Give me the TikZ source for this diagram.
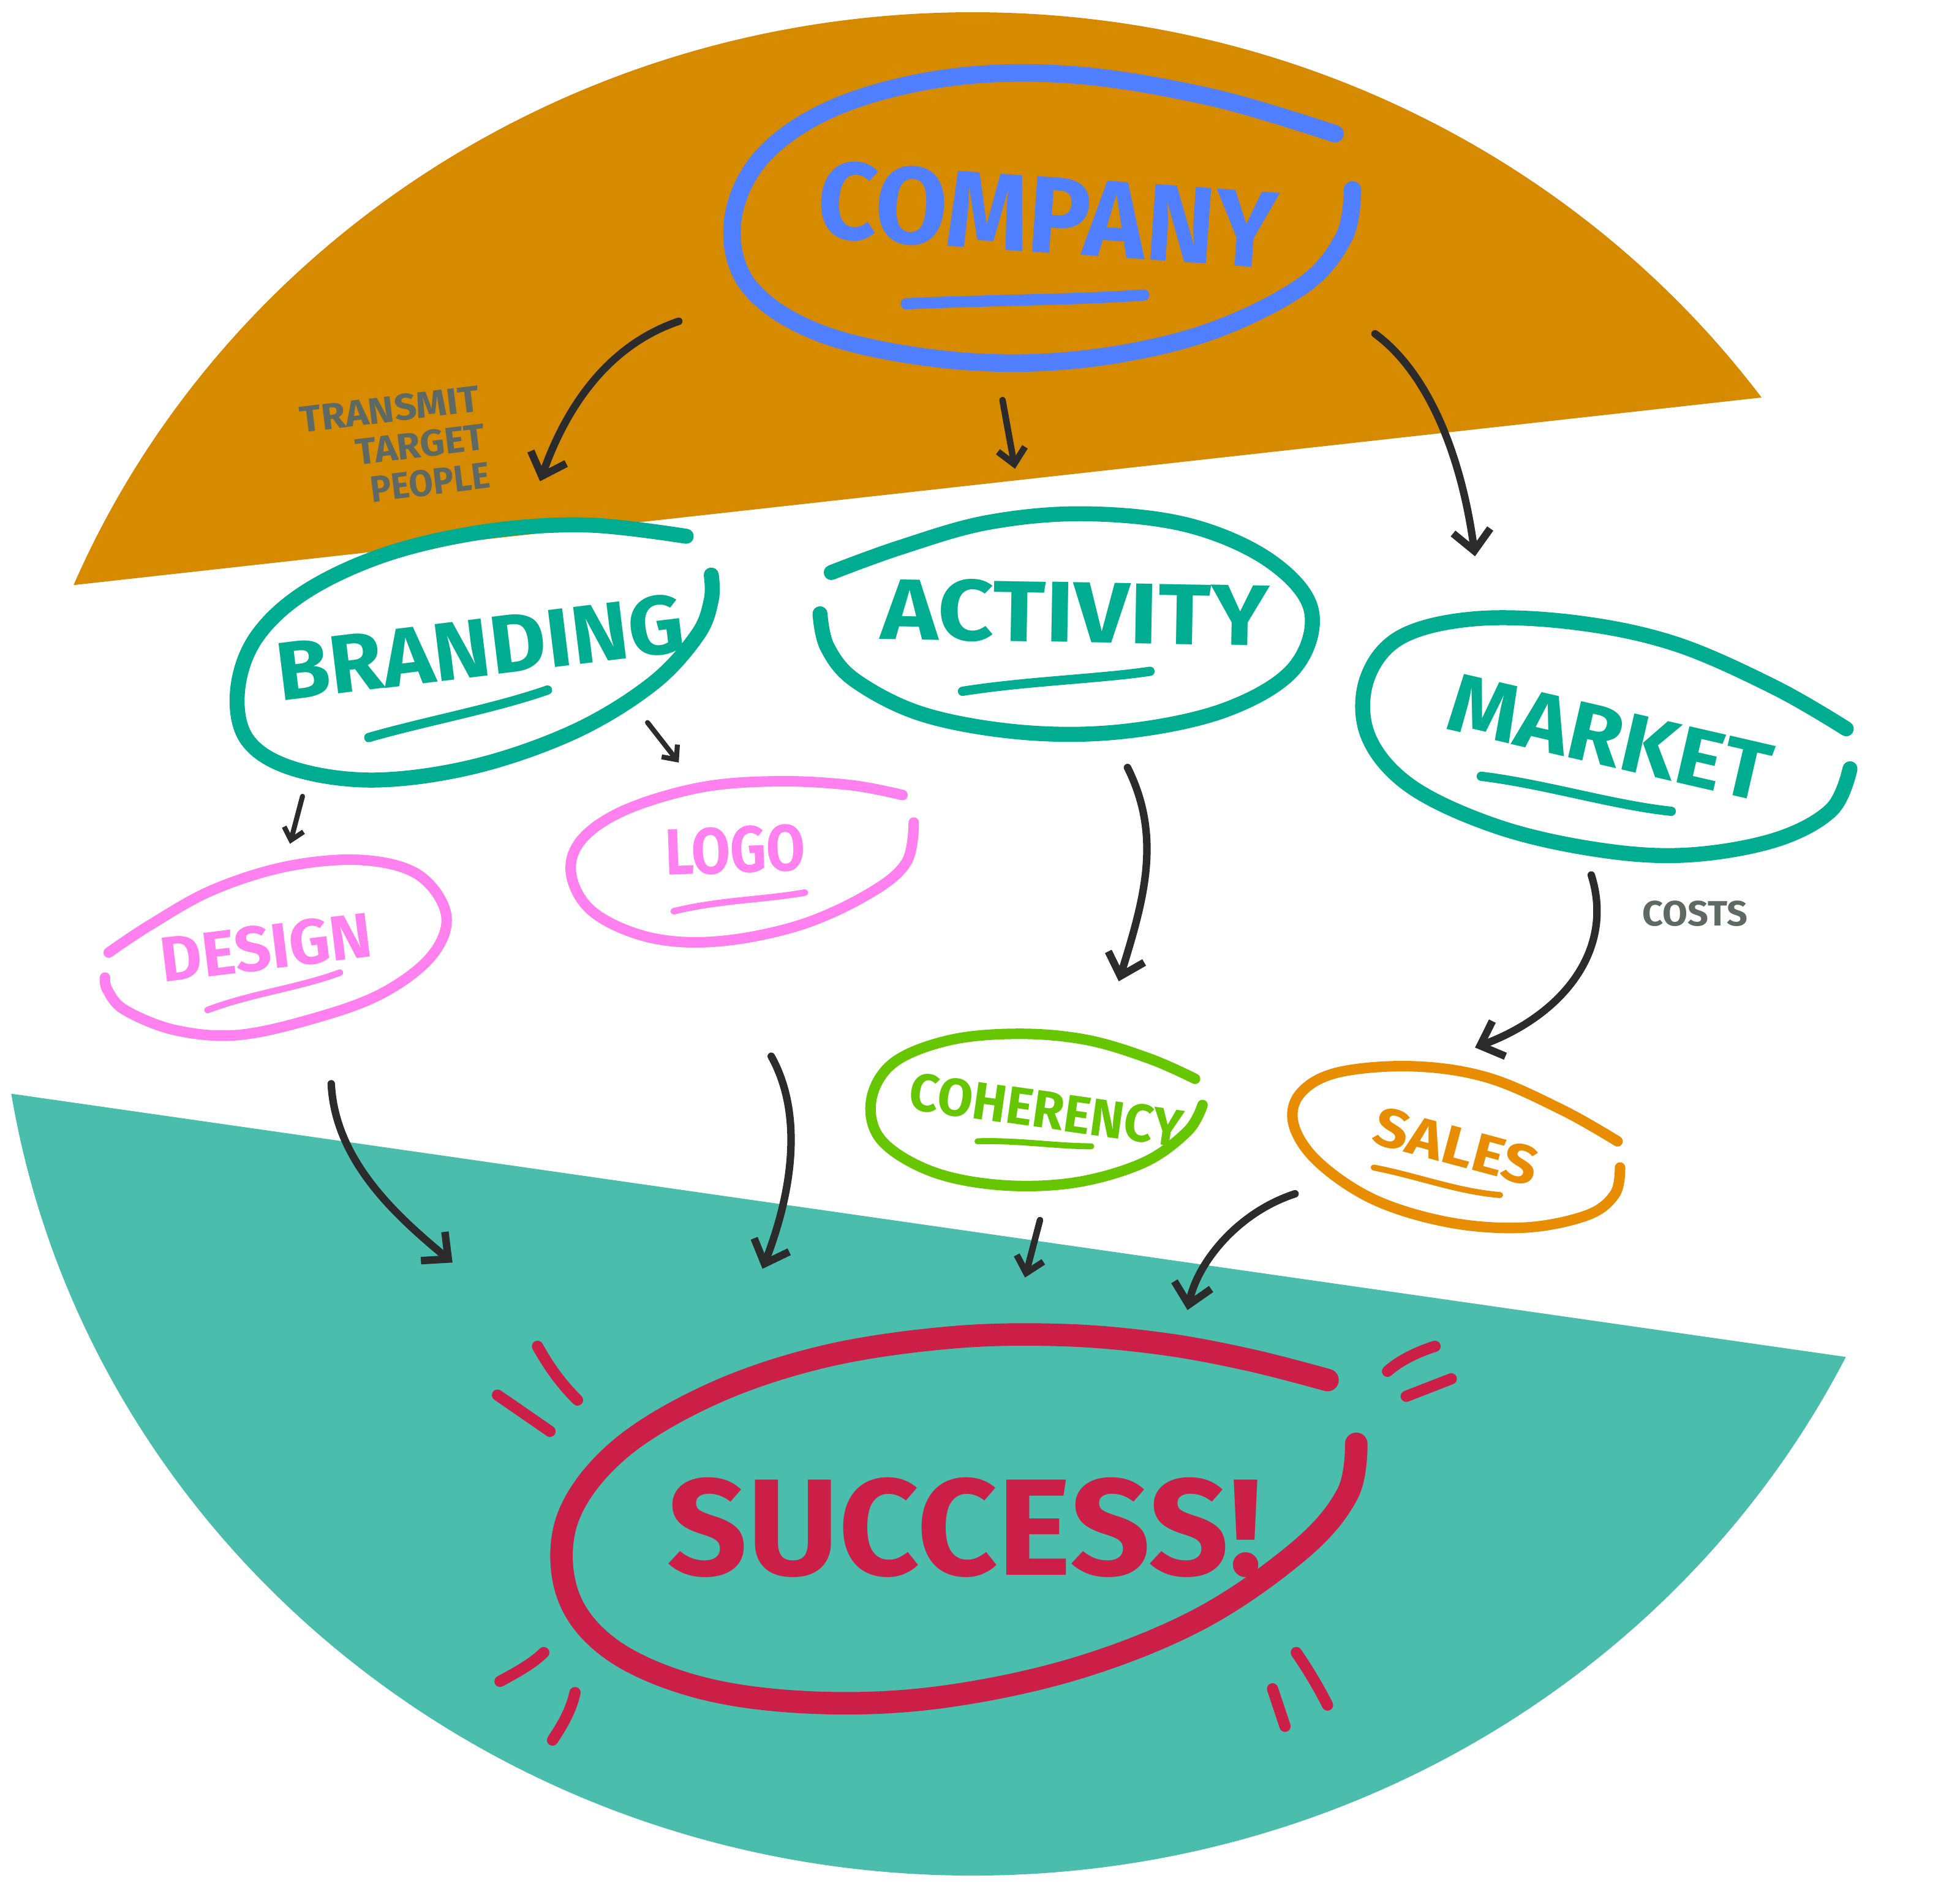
\documentclass[tikz,border=0pt]{standalone}
\usepackage{fontspec}
\setmainfont{Fira Sans}
\usepackage{graphicx}
\usetikzlibrary{arrows.meta}
\definecolor{bgorange}{HTML}{D68A00}
\definecolor{bgteal}{HTML}{4BBDAD}
\definecolor{cblue}{HTML}{5080FF}
\definecolor{cteal}{HTML}{00AD90}
\definecolor{cpink}{HTML}{FF80EE}
\definecolor{cgreen}{HTML}{66C600}
\definecolor{csales}{HTML}{E88C00}
\definecolor{cred}{HTML}{CC1F47}
\definecolor{cink}{HTML}{2B2B2B}
\definecolor{cgray}{HTML}{5E6964}
\newcommand{\fitto}[3]{\resizebox{#1}{#2}{#3}}
\begin{document}
\begin{tikzpicture}[x=0.5pt,y=-0.5pt,
  loopline/.style={line cap=round,line join=round},
  lbl/.style={inner sep=0pt,outer sep=0pt},
  ul/.style={line cap=round},
  arr/.style={draw=cink,line width=3pt,line cap=round,line join=round,-{Straight Barb[length=8pt,width=15pt]}},
  marr/.style={draw=cink,line width=2.6pt,line cap=round,line join=round,-{Straight Barb[length=6pt,width=11pt]}},
  sarr/.style={draw=cink,line width=2pt,line cap=round,line join=round,-{Straight Barb[length=4.5pt,width=8pt]}},
  spark/.style={draw=cred,line width=4.5pt,line cap=round}]

\useasboundingbox (0,0) rectangle (1568,1511);
\fill[white] (0,0) rectangle (1568,1511);
\begin{scope}
\clip (778.1,755.1) ellipse [x radius=779.1, y radius=745.3];
\fill[bgorange] (-10,-10) -- (1600,-10) -- (1600,296.8) -- (-10,475.7) -- cycle;
\fill[bgteal] (-10,872.2) -- (1600,1103.2) -- (1600,1600) -- (-10,1600) -- cycle;
\end{scope}

% ---------- loops ----------
\draw[cblue,line width=7pt,loopline] plot[smooth,tension=0.6] coordinates {(1068,107) (970,78) (860,60) (760,62) (670,85) (610,125) (586,178) (600,230) (660,268) (760,288) (860,288) (960,268) (1040,230) (1075,190) (1082,152)};
\draw[cteal,line width=6pt,loopline] plot[smooth,tension=0.6] coordinates {(549,429) (470,420) (390,425) (310,443) (245,473) (205,510) (190,553) (198,592) (235,615) (300,624) (380,613) (460,585) (522,547) (558,508) (569,480) (569,460)};
\draw[cteal,line width=6pt,loopline] plot[smooth,tension=0.6] coordinates {(665,458) (720,438) (790,418) (868,411) (950,420) (1015,448) (1049,488) (1035,535) (980,568) (900,585) (820,586) (740,572) (685,545) (662,518) (656,491)};
\draw[cteal,line width=6pt,loopline] plot[smooth,tension=0.6] coordinates {(1477,583) (1420,550) (1340,515) (1260,498) (1180,495) (1120,510) (1093,545) (1095,590) (1130,630) (1200,662) (1280,680) (1350,684) (1420,672) (1465,648) (1480,615)};
\draw[cpink,line width=4.2pt,loopline] plot[smooth,tension=0.6] coordinates {(722,636) (680,628) (621,625) (560,630) (500,648) (465,672) (457,700) (475,730) (520,750) (575,753) (640,740) (695,715) (725,690) (731,658)};
\draw[cpink,line width=4.2pt,loopline] plot[smooth,tension=0.6] coordinates {(87,762) (120,740) (170,712) (230,693) (290,688) (335,700) (357,732) (345,765) (305,795) (250,815) (190,828) (140,824) (100,808) (86,792) (84,782)};
\draw[cgreen,line width=4.2pt,loopline] plot[smooth,tension=0.6] coordinates {(956,863) (920,847) (870,832) (816,827) (760,832) (715,850) (697,880) (705,912) (745,937) (800,948) (860,946) (915,930) (950,905) (962,884)};
\draw[csales,line width=4.2pt,loopline] plot[smooth,tension=0.6] coordinates {(1294,913) (1250,888) (1190,862) (1130,853) (1070,858) (1040,875) (1035,900) (1055,930) (1100,960) (1160,978) (1220,982) (1270,972) (1292,955) (1296,934)};
\draw[cred,line width=9pt,loopline] plot[smooth,tension=0.6] coordinates {(1062,1104) (1000,1088) (930,1075) (850,1068) (760,1070) (660,1085) (570,1115) (495,1160) (454,1215) (454,1275) (490,1320) (560,1350) (650,1362) (750,1358) (860,1335) (960,1295) (1040,1240) (1078,1195) (1085,1155)};

% ---------- labels ----------
\node[lbl,rotate=-4,text=cblue] (company) at (838,172) {\fitto{184pt}{31pt}{\bfseries COMPANY}};
\node[lbl,rotate=7,text=cteal] (branding) at (384,518) {\fitto{164pt}{23.5pt}{\bfseries BRANDING}};
\node[lbl,rotate=-1,text=cteal] (activity) at (860,490) {\fitto{155pt}{24.5pt}{\bfseries ACTIVITY}};
\node[lbl,rotate=-13,text=cteal] (market) at (1288,590) {\fitto{131pt}{23pt}{\bfseries MARKET}};
\node[lbl,rotate=2,text=cpink] (logo) at (588,680) {\fitto{56pt}{18.5pt}{\bfseries LOGO}};
\node[lbl,rotate=7,text=cpink] (design) at (213,758) {\fitto{85pt}{18pt}{\bfseries DESIGN}};
\node[lbl,rotate=-8,text=cgreen] (coherency) at (837,888) {\fitto{110pt}{15pt}{\bfseries COHERENCY}};
\node[lbl,rotate=-15,text=csales] (sales) at (1165,917) {\fitto{67pt}{15.5pt}{\bfseries SALES}};
\node[lbl,text=cred] (success) at (772,1222) {\fitto{238pt}{39pt}{\bfseries SUCCESS!}};
\node[lbl,rotate=7,text=cgray,align=left,font=\fontsize{10}{15.5}\selectfont] (transmit) at (316,358)
  {\fitto{72pt}{10.5pt}{\bfseries TRANSMIT}\\
   \hspace*{20.5pt}\fitto{52pt}{10.5pt}{\bfseries TARGET}\\
   \hspace*{24.5pt}\fitto{48pt}{10.5pt}{\bfseries PEOPLE}};
\node[lbl,text=cgray] (costs) at (1356,731) {\fitto{42pt}{10pt}{\bfseries COSTS}};

% ---------- underlines ----------
\draw[cblue,line width=4.5pt,ul] (725,243) .. controls (790,240) and (860,240) .. (915,236);
\draw[cteal,line width=3.7pt,ul] (295,590) .. controls (340,577) and (395,567) .. (438,552);
\draw[cteal,line width=3.7pt,ul] (770,553) .. controls (820,545) and (880,543) .. (920,537);
\draw[cteal,line width=3.7pt,ul] (1185,621) .. controls (1235,627) and (1290,644) .. (1337,649);
\draw[cpink,line width=2.6pt,ul] (539,729) .. controls (575,720) and (610,720) .. (644,714);
\draw[cpink,line width=2.6pt,ul] (166,808) .. controls (200,795) and (240,790) .. (272,778);
\draw[cgreen,line width=2.4pt,ul] (782,913) .. controls (815,912) and (845,917) .. (873,917);
\draw[csales,line width=2.4pt,ul] (1099,934) .. controls (1135,941) and (1165,953) .. (1200,956);

% ---------- sparks ----------
\draw[spark] (430,1077) .. controls (440,1095) and (450,1108) .. (462,1120);
\draw[spark] (398,1116) -- (440,1145);
\draw[spark] (1110,1097) .. controls (1120,1088) and (1135,1081) .. (1148,1077);
\draw[spark] (1125,1117) -- (1161,1103);
\draw[spark] (400,1345) .. controls (415,1337) and (427,1330) .. (435,1322);
\draw[spark] (442,1392) .. controls (450,1380) and (457,1368) .. (460,1354);
\draw[spark] (1028,1381) -- (1018,1351);
\draw[spark] (1062,1364) .. controls (1055,1350) and (1046,1335) .. (1037,1322);

% ---------- connectors ----------
\coordinate (a1s) at (543,257); \coordinate (a1e) at (432,385);
\coordinate (a2s) at (802,320); \coordinate (a2e) at (812,375);
\coordinate (a3s) at (1100,267); \coordinate (a3e) at (1180,445);
\coordinate (a4s) at (518,578); \coordinate (a4e) at (543,610);
\coordinate (a5s) at (242,637); \coordinate (a5e) at (232,675);
\coordinate (a6s) at (902,614); \coordinate (a6e) at (895,785);
\coordinate (a7s) at (1273,700); \coordinate (a7e) at (1180,838);
\coordinate (a8s) at (265,867); \coordinate (a8e) at (362,1010);
\coordinate (a9s) at (617,845); \coordinate (a9e) at (610,1015);
\coordinate (a10s) at (832,976); \coordinate (a10e) at (820,1022);
\coordinate (a11s) at (1036,955); \coordinate (a11e) at (950,1048);

\draw[arr] (a1s) .. controls (490,275) and (455,320) .. (a1e);
\draw[marr] (a2s) -- (a2e);
\draw[arr] (a3s) .. controls (1145,300) and (1170,370) .. (a3e);
\draw[sarr] (a4s) -- (a4e);
\draw[sarr] (a5s) -- (a5e);
\draw[arr] (a6s) .. controls (930,670) and (915,720) .. (a6e);
\draw[arr] (a7s) .. controls (1292,760) and (1250,812) .. (a7e);
\draw[arr] (a8s) .. controls (268,930) and (320,975) .. (a8e);
\draw[arr] (a9s) .. controls (642,890) and (635,950) .. (a9e);
\draw[marr] (a10s) -- (a10e);
\draw[arr] (a11s) .. controls (990,970) and (958,1010) .. (a11e);
\end{tikzpicture}
\end{document}
